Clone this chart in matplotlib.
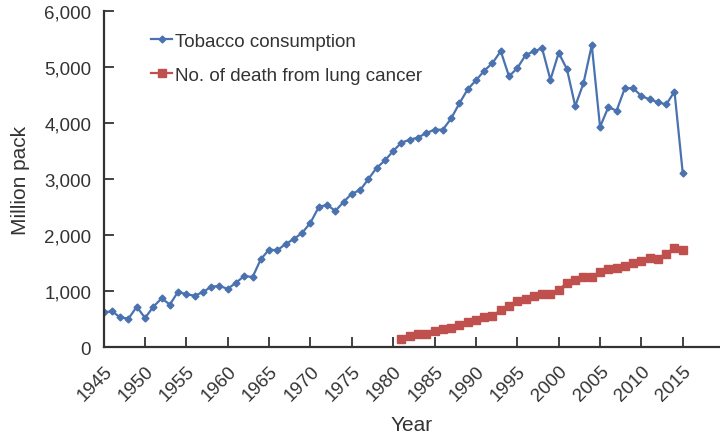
import matplotlib.pyplot as plt

plt.rcParams['font.family'] = ['Liberation Sans', 'DejaVu Sans']

# Tobacco consumption (million packs), 1945-2015
tobacco_years = list(range(1945, 2016))
tobacco = [620, 640, 530, 510, 720, 520, 720, 870, 760, 990,
           940, 920, 980, 1080, 1090, 1040, 1150, 1270, 1250, 1570,
           1740, 1730, 1840, 1930, 2040, 2220, 2500, 2540, 2430, 2590,
           2740, 2800, 3000, 3200, 3330, 3500, 3650, 3700, 3740, 3820,
           3880, 3880, 4080, 4350, 4600, 4760, 4930, 5070, 5280, 4830,
           4980, 5210, 5280, 5330, 4770, 5250, 4960, 4300, 4710, 5390,
           3930, 4280, 4220, 4620, 4620, 4480, 4420, 4370, 4330, 4560,
           3100]

# Deaths from lung cancer, 1981-2015
death_years = list(range(1981, 2016))
deaths = [140, 190, 230, 230, 280, 320, 350, 390, 440, 490,
          530, 560, 660, 730, 820, 860, 910, 950, 950, 1020,
          1150, 1200, 1250, 1250, 1340, 1390, 1420, 1450, 1500, 1530,
          1590, 1580, 1670, 1770, 1740]

xticks = list(range(1945, 2016, 5))
yticks = [0, 1000, 2000, 3000, 4000, 5000, 6000]

fig = plt.figure(figsize=(7.2, 4.39), dpi=100)
ax = fig.add_axes([0.144, 0.207, 0.856, 0.766])

ax.plot(tobacco_years, tobacco, color='#4a72b0', linewidth=1.6,
        marker='D', markersize=3.5, label='Tobacco consumption')
ax.plot(death_years, deaths, color='#c0504d', linewidth=1.6,
        marker='s', markersize=5.5, label='No. of death from lung cancer')

ax.set_xlim(1945, 2019.5)
ax.set_ylim(0, 6000)
ax.set_xticks(xticks)
ax.set_yticks(yticks)
ax.set_yticklabels([f'{v:,}' for v in yticks])
ax.tick_params(direction='in', length=7, width=1.2, labelsize=13.5,
               colors='#222222', labelcolor='#333333')
ax.tick_params(axis='y', pad=9)
ax.tick_params(axis='x', pad=11)
plt.setp(ax.get_xticklabels(), rotation=45, ha='right', rotation_mode='anchor')

for side in ['top', 'right']:
    ax.spines[side].set_visible(False)
for side in ['left', 'bottom']:
    ax.spines[side].set_linewidth(1.6)
    ax.spines[side].set_color('#333333')

ax.set_ylabel('Million pack', fontsize=15, color='#333333', labelpad=10)
ax.set_xlabel('Year', fontsize=15, color='#333333', labelpad=8)

ax.legend(loc='upper left', bbox_to_anchor=(0.05, 0.985), frameon=False,
          fontsize=13.5, handlelength=1.1, handletextpad=0.15,
          labelspacing=0.9, labelcolor='#333333')

plt.savefig('out.png', dpi=100)
